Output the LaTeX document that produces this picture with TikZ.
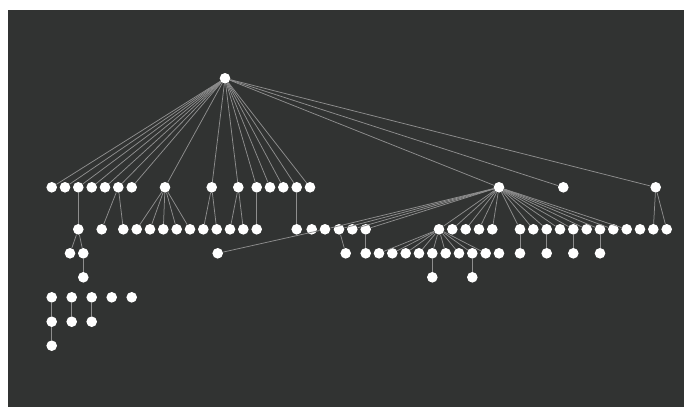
\documentclass[tikz,border=0pt]{standalone}
\definecolor{bgdark}{HTML}{313332}
\definecolor{edgegray}{HTML}{8E8E8E}
\tikzset{
  dot/.style={circle,fill=white,draw=none,inner sep=0pt,minimum size=10.6pt},
  edge/.style={draw=edgegray,line width=0.75pt}
}
\begin{document}
\begin{tikzpicture}[x=1pt,y=-1pt]
\useasboundingbox (0,0) rectangle (684,407);
\fill[white] (0,0) rectangle (684,407);
\fill[bgdark] (8,10) rectangle (684,407);
% root
\node[dot] (r) at (225,78.3) {};
% level 1
\foreach \n/\x in {a1/51.7,a2/65,a3/78.3,a4/91.7,a5/105,a6/118.3,a7/131.7,a8/165,a9/211.7,a10/238.3,a11/256.7,a12/270,a13/283.3,a14/296.7,a15/310,a16/499,a17/563.3,a18/655.7}
  \node[dot] (\n) at (\x,187.3) {};
% level 2
\foreach \n/\x in {b1/78.3,b2/101.7,b3/123.3,b4/136.7,b5/150,b6/163.3,b7/176.7,b8/190,b9/203.3,b10/216.7,b11/230,b12/243.3,b13/256.7,b14/296.7,b15/311.7,b16/325,b17/339,b18/352.3,b19/365.7,b20/439,b21/452.3,b22/465.7,b23/479,b24/492.3,b25/520,b26/533.3,b27/546.7,b28/560,b29/573.3,b30/586.7,b31/600,b32/613.3,b33/626.7,b34/640,b35/653.3,b36/666.7}
  \node[dot] (\n) at (\x,229.3) {};
% level 3
\foreach \n/\x in {c1/70,c2/83.3,c3/217.7,c4/345.7,c5/365.7,c6/379,c7/392.3,c8/405.7,c9/419,c10/432.3,c11/445.7,c12/459,c13/472.3,c14/485.7,c15/499,c16/520,c17/546.7,c18/573.3,c19/600}
  \node[dot] (\n) at (\x,253.3) {};
% level 4
\foreach \n/\x in {d1/83.3,d2/432.3,d3/472.3}
  \node[dot] (\n) at (\x,277.3) {};
% lower left group
\foreach \n/\x in {e1/51.7,e2/71.7,e3/91.7,e4/111.7,e5/131.7}
  \node[dot] (\n) at (\x,297.3) {};
\foreach \n/\x in {f1/51.7,f2/71.7,f3/91.7}
  \node[dot] (\n) at (\x,321.7) {};
\node[dot] (g1) at (51.7,345.7) {};
% edges
\foreach \p/\c in {r/a1,r/a2,r/a3,r/a4,r/a5,r/a6,r/a7,r/a8,r/a9,r/a10,r/a11,r/a12,r/a13,r/a14,r/a15,r/a16,r/a17,r/a18,
  a3/b1,a6/b2,a6/b3,a8/b4,a8/b5,a8/b6,a8/b7,a8/b8,a9/b9,a9/b10,a10/b11,a10/b12,a11/b13,a14/b14,
  a16/b16,a16/b17,a16/b18,a16/b19,a16/b20,a16/b21,a16/b22,a16/b23,a16/b24,
  a16/b25,a16/b26,a16/b27,a16/b28,a16/b29,a16/b30,a16/b31,a16/b32,a16/b33,
  a18/b35,a18/b36,
  b1/c1,b1/c2,b16/c3,b17/c4,b19/c5,
  b20/c6,b20/c7,b20/c8,b20/c9,b20/c10,b20/c11,b20/c12,b20/c13,b20/c14,
  b25/c16,b27/c17,b29/c18,b31/c19,
  c2/d1,c10/d2,c13/d3,
  e1/f1,e2/f2,e3/f3,f1/g1}
  \draw[edge] (\p) -- (\c);
\end{tikzpicture}
\end{document}
